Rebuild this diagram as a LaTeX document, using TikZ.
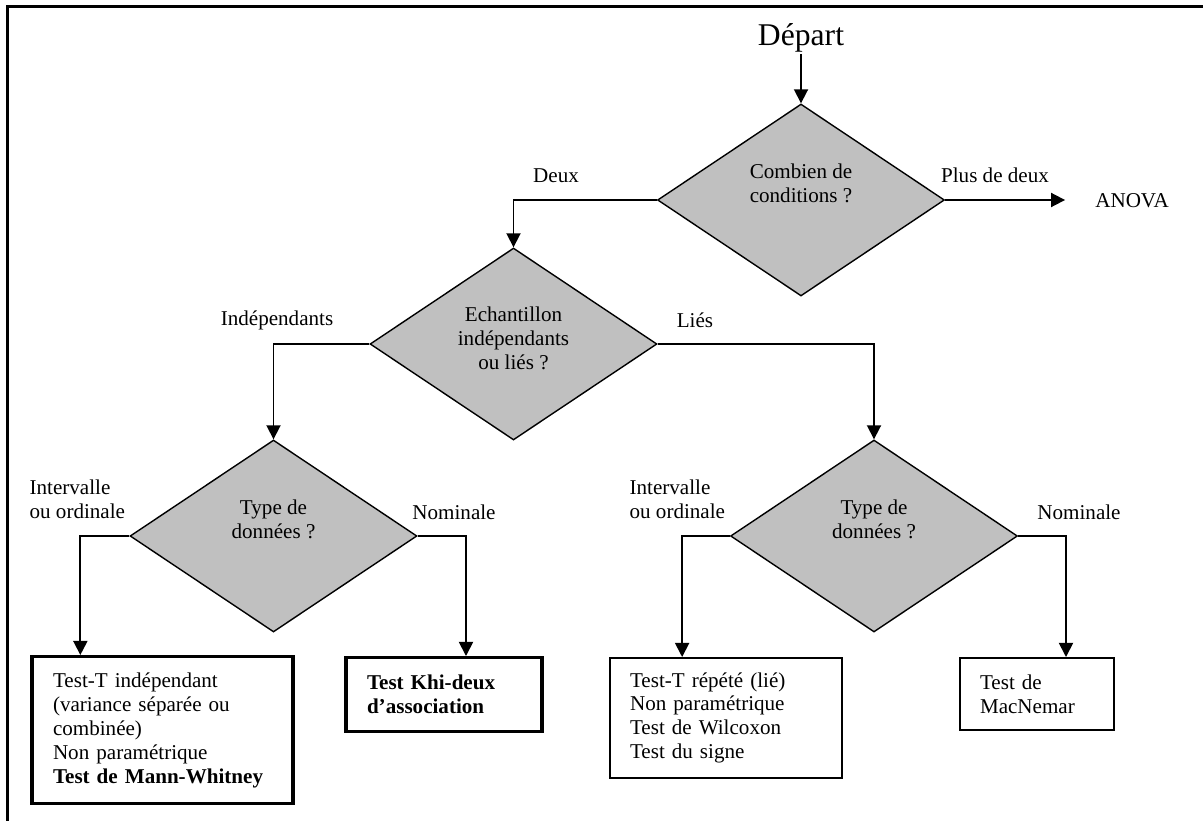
\documentclass[tikz,border=0pt]{standalone}
\usepackage{xcolor}
\usepackage{fontspec}
\setmainfont{Liberation Serif}
\usepackage{tikz}
\usetikzlibrary{shapes.geometric,arrows.meta}
\definecolor{DiamondGray}{HTML}{C0C0C0}
\tikzset{
  dnode/.style={
    draw=black,fill=DiamondGray,shape=diamond,inner sep=0pt,
    minimum width=5.74cm,minimum height=3.84cm,line width=0.8pt,
    font=\fontsize{12}{13.6}\selectfont,align=center
  },
  tbox/.style={
    draw=black,line width=1pt,anchor=north,inner xsep=0.4cm,
    font=\fontsize{12}{13.6}\selectfont,align=left
  },
  tboxthick/.style={tbox,line width=1.9pt,inner xsep=0.42cm},
  lbl/.style={font=\fontsize{12}{13.6}\selectfont,inner sep=1pt},
  arr/.style={line width=1pt,-{Triangle[length=8pt,width=8pt]}},
}
\begin{document}
\begin{tikzpicture}[x=0.02cm,y=-0.02cm]
  \useasboundingbox (0,0) rectangle (1203,821);
  % frame
  \draw[line width=1.3pt] (7.5,821) -- (7.5,6.5) -- (1203,6.5);
  \node[font=\fontsize{18}{20}\selectfont,inner sep=1pt] (start) at (801,38) {Départ};
  \node[dnode] (d1) at (801,200) {Combien de\\conditions ?\\[5.2pt]};
  \node[dnode] (d2) at (513.5,344) {Echantillon\\indépendants\\ou liés ?\\[-6.8pt]};
  \node[dnode] (d3) at (273.5,536) {Type de\\données ?\\[5.2pt]};
  \node[dnode] (d4) at (874,536) {Type de\\données ?\\[5.2pt]};
  \node[lbl] (anova) at (1132,201) {ANOVA};
  \node[tboxthick,text width=4.38cm,minimum height=2.94cm] (b1) at (162.5,655)
    {Test-T indépendant\\(variance séparée ou\\combinée)\\Non paramétrique\\\textbf{Test de Mann-Whitney}};
  \node[tboxthick,text width=3.08cm,minimum height=1.48cm] (b2) at (444,656)
    {\textbf{Test Khi-deux}\\\textbf{d’association}};
  \node[tbox,text width=3.84cm,minimum height=2.4cm] (b3) at (726,657)
    {Test-T répété (lié)\\Non paramétrique\\Test de Wilcoxon\\Test du signe};
  \node[tbox,text width=2.28cm,minimum height=1.44cm] (b4) at (1037,657)
    {Test de\\MacNemar};
  % branch labels
  \node[lbl] (two) at (556,176) {Deux};
  \node[lbl] (more) at (995,175) {Plus de deux};
  \node[lbl] (indep) at (277,320) {Indépendants};
  \node[lbl] (paired) at (695,320) {Liés};
  \node[lbl,align=left,anchor=west] (ord1) at (27.5,499.5) {Intervalle\\ou ordinale};
  \node[lbl] (nom1) at (454,512) {Nominale};
  \node[lbl,align=left,anchor=west] (ord2) at (627.5,499.5) {Intervalle\\ou ordinale};
  \node[lbl] (nom2) at (1079,512) {Nominale};
  % connectors
  \draw[arr] (start) -- (d1.north);
  \draw[arr,shorten >=16pt] (d1.east) -- (d1.east -| anova.west);
  \draw[arr] (d1.west) -| (d2.north);
  \draw[arr] (d2.west) -| (d3.north);
  \draw[arr] (d2.east) -| (d4.north);
  \draw[arr] (d3.west) -| ([xshift=1.0cm]b1.north west);
  \draw[arr] (d3.east) -| ([xshift=0.44cm]b2.north);
  \draw[arr] (d4.west) -| ([xshift=1.46cm]b3.north west);
  \draw[arr] (d4.east) -| ([xshift=0.58cm]b4.north);
\end{tikzpicture}
\end{document}
